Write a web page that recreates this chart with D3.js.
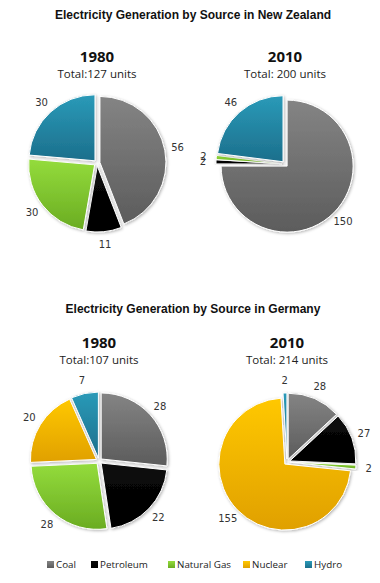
<!DOCTYPE html>
<html><head><meta charset="utf-8">
<script src="https://cdn.jsdelivr.net/npm/d3@7/dist/d3.min.js"></script>
<style>
html,body{margin:0;padding:0;background:#fff;}
svg{display:block;}
</style></head>
<body>
<svg id="chart" width="380" height="583"></svg>
<script>
// ---- data ----
const sources = ["Coal", "Petroleum", "Natural Gas", "Nuclear", "Hydro"];
const nz1980 = [56, 11, 30, 0, 30];
const nz2010 = [150, 2, 2, 0, 46];
const de1980 = [28, 22, 28, 20, 7];
const de2010 = [28, 27, 2, 155, 2];
const chartTitles = ["Electricity Generation by Source in New Zealand", "Electricity Generation by Source in Germany"];
const years = ["1980", "2010"];
const totals = ["Total:127 units", "Total: 200 units", "Total:107 units", "Total: 214 units"];
const colorsTop = ["#848484", "#0a0a0a", "#94dc3c", "#ffc800", "#2a9ab8"];
const colorsBot = ["#5c5c5c", "#000000", "#6aac22", "#e0a000", "#1c6f8c"];

const svg = d3.select("#chart");
const defs = svg.append("defs");
sources.forEach((s, i) => {
  const g = defs.append("linearGradient").attr("id", "grad" + i)
    .attr("x1", 0).attr("y1", 0).attr("x2", 0).attr("y2", 1);
  g.append("stop").attr("offset", "0%").attr("stop-color", colorsTop[i]);
  g.append("stop").attr("offset", "100%").attr("stop-color", colorsBot[i]);
});
const f = defs.append("filter").attr("id", "shadow").attr("x", "-20%").attr("y", "-20%").attr("width", "140%").attr("height", "140%");
f.append("feDropShadow").attr("dx", 1).attr("dy", 1).attr("stdDeviation", 1.5).attr("flood-color", "#000").attr("flood-opacity", 0.3);

const color = d3.scaleOrdinal().domain(sources).range(sources.map((s, i) => "url(#grad" + i + ")"));

const pies = [
  {values: nz1980, cx: 97, cy: 163, year: years[0], total: totals[0], yy: 62},
  {values: nz2010, cx: 285, cy: 164, year: years[1], total: totals[1], yy: 62},
  {values: de1980, cx: 99, cy: 461, year: years[0], total: totals[2], yy: 348},
  {values: de2010, cx: 287, cy: 462, year: years[1], total: totals[3], yy: 348}
];

const R = 66, explode = 3, labelR = 82;
const pieGen = d3.pie().sort(null).value(d => d.v);
const arc = d3.arc().innerRadius(0).outerRadius(R);
const labelArc = d3.arc().innerRadius(labelR).outerRadius(labelR);

// titles
svg.append("text").attr("x", 193).attr("y", 19).attr("text-anchor", "middle")
  .attr("font-family", "Liberation Sans, Arial, sans-serif").attr("font-weight", "bold")
  .attr("font-size", 12).attr("fill", "#111").text(chartTitles[0]);
svg.append("text").attr("x", 193).attr("y", 313).attr("text-anchor", "middle")
  .attr("font-family", "Liberation Sans, Arial, sans-serif").attr("font-weight", "bold")
  .attr("font-size", 12).attr("fill", "#111").text(chartTitles[1]);

pies.forEach(p => {
  const cx = p.cx;
  svg.append("text").attr("x", cx).attr("y", p.yy).attr("text-anchor", "middle")
    .attr("font-family", "Open Sans, DejaVu Sans, sans-serif").attr("font-weight", "bold")
    .attr("font-size", 15).attr("fill", "#111").text(p.year);
  svg.append("text").attr("x", cx).attr("y", p.yy + 16).attr("text-anchor", "middle")
    .attr("font-family", "Open Sans, DejaVu Sans, sans-serif")
    .attr("font-size", 11.5).attr("fill", "#222").text(p.total);

  const data = sources.map((s, i) => ({s, v: p.values[i]})).filter(d => d.v > 0);
  const arcs = pieGen(data);
  const g = svg.append("g").attr("transform", `translate(${p.cx},${p.cy})`);
  g.selectAll("path").data(arcs).enter().append("path")
    .attr("d", arc)
    .attr("transform", d => {
      const a = (d.startAngle + d.endAngle) / 2;
      return `translate(${explode * Math.sin(a)},${-explode * Math.cos(a)})`;
    })
    .attr("fill", d => color(d.data.s))
    .attr("stroke", "#fff").attr("stroke-width", 1)
    .attr("filter", "url(#shadow)");
  g.selectAll("text.lbl").data(arcs).enter().append("text").attr("class", "lbl")
    .attr("transform", d => `translate(${labelArc.centroid(d)})`)
    .attr("text-anchor", "middle").attr("dy", "0.35em")
    .attr("font-family", "DejaVu Sans, Verdana, sans-serif").attr("font-size", 10)
    .attr("fill", "#333").text(d => d.data.v);
});

// legend
const legendX = [47, 91, 168, 243, 305];
const lg = svg.append("g");
sources.forEach((s, i) => {
  lg.append("rect").attr("x", legendX[i]).attr("y", 561).attr("width", 7).attr("height", 7)
    .attr("fill", color(s));
  lg.append("text").attr("x", legendX[i] + 9).attr("y", 568)
    .attr("font-family", "Open Sans, DejaVu Sans, sans-serif").attr("font-size", 9.8)
    .attr("fill", "#222").text(s);
});
</script>
</body></html>
